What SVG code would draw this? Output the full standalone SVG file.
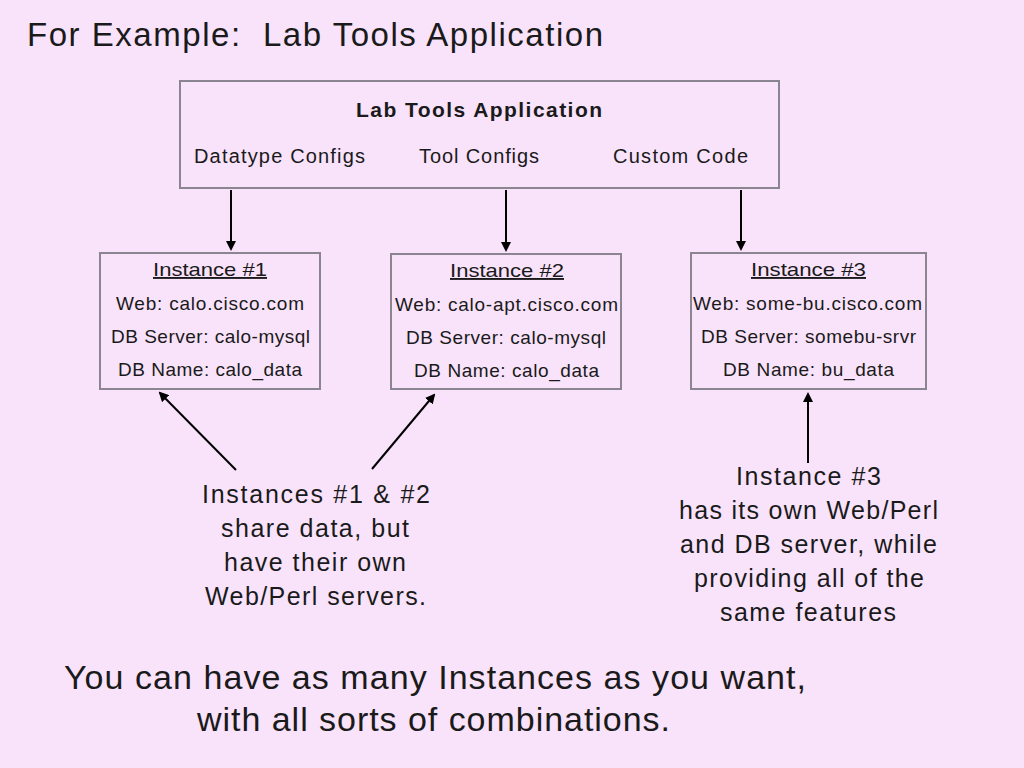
<svg xmlns="http://www.w3.org/2000/svg" width="1024" height="768" viewBox="0 0 1024 768">
<defs>
<style>
text{font-family:"Liberation Sans",Arial,sans-serif;fill:#1a1a1a;white-space:pre}
.box{fill:none;stroke:#8a8590;stroke-width:2}
.conn{stroke:#000;stroke-width:2;fill:none;marker-end:url(#ah)}
.it{font-size:19px;text-anchor:middle}
.cap{font-size:25px;text-anchor:middle}
</style>
<marker id="ah" viewBox="0 0 10 10" refX="8" refY="5" markerWidth="5" markerHeight="5" orient="auto" markerUnits="strokeWidth">
<path d="M0,0 L10,5 L0,10 z" fill="#000"/>
</marker>
</defs>
<rect width="1024" height="768" fill="#f9e3fb"/>
<text x="27" y="46" font-size="33" textLength="576" lengthAdjust="spacing" xml:space="preserve">For Example:  Lab Tools Application</text>
<g id="app">
<rect class="box" x="180" y="81" width="599" height="107"/>
<text x="479" y="117" font-size="21" font-weight="bold" text-anchor="middle" textLength="246" lengthAdjust="spacing">Lab Tools Application</text>
<text x="194" y="163" font-size="20" textLength="171" lengthAdjust="spacing">Datatype Configs</text>
<text x="419" y="163" font-size="20" textLength="120" lengthAdjust="spacing">Tool Configs</text>
<text x="613" y="163" font-size="20" textLength="135" lengthAdjust="spacing">Custom Code</text>
</g>
<g id="inst1">
<rect class="box" x="100" y="253" width="220" height="136"/>
<text class="it" x="210" y="276" text-decoration="underline" textLength="114" lengthAdjust="spacingAndGlyphs">Instance #1</text>
<text class="it" x="210" y="310" textLength="188" lengthAdjust="spacing">Web: calo.cisco.com</text>
<text class="it" x="210.5" y="343" textLength="199" lengthAdjust="spacing">DB Server: calo-mysql</text>
<text class="it" x="210" y="376" textLength="184" lengthAdjust="spacing">DB Name: calo_data</text>
</g>
<g id="inst2">
<rect class="box" x="391" y="254" width="230" height="135"/>
<text class="it" x="507" y="277" text-decoration="underline" textLength="114" lengthAdjust="spacingAndGlyphs">Instance #2</text>
<text class="it" x="506.5" y="311" textLength="223" lengthAdjust="spacing">Web: calo-apt.cisco.com</text>
<text class="it" x="506" y="344" textLength="200" lengthAdjust="spacing">DB Server: calo-mysql</text>
<text class="it" x="506.5" y="377" textLength="185" lengthAdjust="spacing">DB Name: calo_data</text>
</g>
<g id="inst3">
<rect class="box" x="691" y="253" width="235" height="136"/>
<text class="it" x="808.5" y="276" text-decoration="underline" textLength="115" lengthAdjust="spacingAndGlyphs">Instance #3</text>
<text class="it" x="807.5" y="310" textLength="229" lengthAdjust="spacing">Web: some-bu.cisco.com</text>
<text class="it" x="808.5" y="343" textLength="215" lengthAdjust="spacing">DB Server: somebu-srvr</text>
<text class="it" x="808.5" y="376" textLength="171" lengthAdjust="spacing">DB Name: bu_data</text>
</g>
<g id="connectors">
<line class="conn" x1="231" y1="190" x2="231" y2="249"/>
<line class="conn" x1="506" y1="190" x2="506" y2="250"/>
<line class="conn" x1="741" y1="190" x2="741" y2="249"/>
<line class="conn" x1="236" y1="470" x2="160" y2="393"/>
<line class="conn" x1="372" y1="469" x2="434" y2="395"/>
<line class="conn" x1="808" y1="463" x2="808" y2="394"/>
</g>
<g id="caption1">
<text class="cap" x="316" y="503" textLength="228" lengthAdjust="spacing">Instances #1 &amp; #2</text>
<text class="cap" x="315" y="537" textLength="188" lengthAdjust="spacing">share data, but</text>
<text class="cap" x="315" y="571" textLength="182" lengthAdjust="spacing">have their own</text>
<text class="cap" x="315.5" y="605" textLength="221" lengthAdjust="spacing">Web/Perl servers.</text>
</g>
<g id="caption2">
<text class="cap" x="808.5" y="485" textLength="145" lengthAdjust="spacing">Instance #3</text>
<text class="cap" x="808.5" y="519" textLength="259" lengthAdjust="spacing">has its own Web/Perl</text>
<text class="cap" x="808.5" y="553" textLength="257" lengthAdjust="spacing">and DB server, while</text>
<text class="cap" x="809" y="587" textLength="230" lengthAdjust="spacing">providing all of the</text>
<text class="cap" x="808" y="621" textLength="176" lengthAdjust="spacing">same features</text>
</g>
<text x="435" y="689" font-size="34" text-anchor="middle" textLength="742" lengthAdjust="spacing">You can have as many Instances as you want,</text>
<text x="433.5" y="731" font-size="34" text-anchor="middle" textLength="473" lengthAdjust="spacing">with all sorts of combinations.</text>
</svg>
